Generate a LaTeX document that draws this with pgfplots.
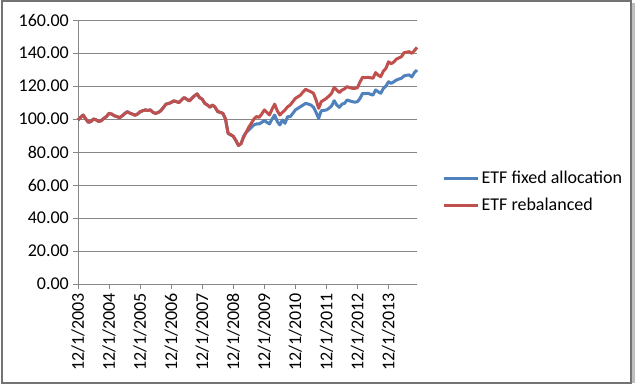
\documentclass[border=0pt]{standalone}
\usepackage{pgfplots}
\pgfplotsset{compat=1.18}
\usepackage{fontspec}
\setmainfont{Carlito}
\definecolor{xlblue}{HTML}{4F81BD}
\definecolor{xlred}{HTML}{C0504D}
\definecolor{xlgrid}{HTML}{868686}
\newcommand{\lbl}{\fontsize{18}{21}\selectfont}
\begin{document}
\begin{tikzpicture}[x=1pt,y=1pt]
\useasboundingbox (0,0) rectangle (640,384);
\fill[white] (0,0) rectangle (640,384);
\draw[black!55,line width=2pt] (1.5,1.5) rectangle (631,382.5);
\draw[black!25,line width=3pt] (633.5,1) -- (633.5,381);
\begin{axis}[
  at={(78pt,100pt)}, anchor=south west,
  width=339pt, height=264pt, scale only axis,
  xmin=0, xmax=131, ymin=0, ymax=160,
  axis x line*=bottom, axis y line*=left,
  axis line style={xlgrid, line width=1pt, -},
  xtick={0,12,24,36,48,60,72,84,96,108,120},
  xticklabels={12/1/2003,12/1/2004,12/1/2005,12/1/2006,12/1/2007,12/1/2008,12/1/2009,12/1/2010,12/1/2011,12/1/2012,12/1/2013},
  xticklabel style={rotate=90, anchor=east, font=\lbl, inner sep=4pt},
  ytick={0,20,...,160},
  yticklabel style={font=\lbl, inner sep=4pt, /pgf/number format/fixed, /pgf/number format/zerofill, /pgf/number format/precision=2},
  /pgf/number format/assume math mode=true,
  tick align=outside, major tick length=5pt,
  tick style={xlgrid, line width=1pt},
  ymajorgrids, grid style={xlgrid, line width=1pt},
  legend style={draw=none, fill=none, at={(1.075,0.35)}, anchor=west, font=\lbl, row sep=9pt, inner sep=0pt},
  legend cell align=left,
  legend image code/.code={\draw[#1] (0pt,0pt) -- (34pt,0pt);},
  every axis plot/.append style={line width=3pt, line join=round},
  clip=false,
]
\addplot[xlblue] coordinates {
(0,99.4)(1,101)(2,102.4)(3,100)(4,98)(5,98.5)(6,100)(7,99.5)(8,98.5)(9,99)
(10,100.4)(11,101.5)(12,103.4)(13,103)(14,102)(15,101.5)(16,100.8)(17,101.8)(18,103.2)(19,104.4)
(20,103.6)(21,103)(22,102.3)(23,103)(24,104.4)(25,105)(26,105.5)(27,105.2)(28,105.5)(29,104)
(30,103.4)(31,104)(32,105)(33,107)(34,109)(35,109.4)(36,110)(37,111)(38,110.5)(39,110)
(40,111.5)(41,113)(42,112)(43,111)(44,112.5)(45,114)(46,115.2)(47,113)(48,112)(49,109.5)
(50,108.5)(51,107.2)(52,108.5)(53,107)(54,104.5)(55,104)(56,103.4)(57,100)(58,91.3)(59,90.5)
(60,89.5)(61,87)(62,84)(63,85)(64,89.5)(65,92)(66,93.3)(67,95)(68,96.4)(69,97)
(70,97)(71,98)(72,99)(73,98)(74,97)(75,100)(76,102.4)(77,98.5)(78,96.4)(79,99.4)
(80,97.4)(81,101.4)(82,101.4)(83,103.4)(84,105.5)(85,106.5)(86,107.5)(87,108.5)(88,109.5)(89,109)
(90,108.5)(91,107.1)(92,104)(93,100.4)(94,105)(95,105.2)(96,105.5)(97,106.5)(98,107.9)(99,111.1)
(100,108.5)(101,107.1)(102,109)(103,109.5)(104,111.5)(105,111)(106,110.5)(107,110.2)(108,110.5)(109,112.5)
(110,115.6)(111,115.3)(112,115.6)(113,115)(114,114.5)(115,117.6)(116,116.5)(117,115.6)(118,118.5)(119,120)
(120,122.6)(121,121.6)(122,122.5)(123,123.6)(124,124.2)(125,124.7)(126,126.1)(127,126.5)(128,126.7)(129,125.5)
(130,128.1)(131,129.7)
};
\addlegendentry{ETF fixed allocation}
\addplot[xlred] coordinates {
(0,99.4)(1,101)(2,102.4)(3,100)(4,98)(5,98.5)(6,100)(7,99.5)(8,98.5)(9,99)
(10,100.4)(11,101.5)(12,103.4)(13,103)(14,102)(15,101.5)(16,100.8)(17,101.8)(18,103.2)(19,104.4)
(20,103.6)(21,103)(22,102.3)(23,103)(24,104.4)(25,105)(26,105.5)(27,105.2)(28,105.5)(29,104)
(30,103.4)(31,104)(32,105)(33,107)(34,109)(35,109.4)(36,110)(37,111)(38,110.5)(39,110)
(40,111.5)(41,113)(42,112)(43,111)(44,112.5)(45,114)(46,115.2)(47,113)(48,112)(49,109.5)
(50,108.5)(51,107.2)(52,108.5)(53,107)(54,104.5)(55,104)(56,103.4)(57,100)(58,91.3)(59,90.5)
(60,89.5)(61,87)(62,84)(63,85)(64,89)(65,92)(66,95)(67,97.5)(68,100)(69,101.5)
(70,101)(71,103)(72,105.5)(73,104)(74,102.5)(75,106)(76,109)(77,105)(78,102.4)(79,104)
(80,105.5)(81,107.4)(82,108.5)(83,110.5)(84,112.5)(85,113.5)(86,114.5)(87,116.5)(88,118)(89,117.2)
(90,116.5)(91,115.6)(92,111.5)(93,106.5)(94,110.5)(95,111.5)(96,112.5)(97,114)(98,115.6)(99,119.2)
(100,117.5)(101,116)(102,117.5)(103,118.3)(104,119.6)(105,119)(106,118.6)(107,118.6)(108,119)(109,122.6)
(110,125.3)(111,125)(112,125.3)(113,125)(114,124.7)(115,128.1)(116,126.5)(117,125.7)(118,129)(119,130.7)
(120,134.7)(121,133.5)(122,134.5)(123,136.2)(124,137)(125,137.8)(126,140.2)(127,140.5)(128,140.8)(129,139.8)
(130,141.4)(131,143.4)
};
\addlegendentry{ETF rebalanced}
\end{axis}
\end{tikzpicture}
\end{document}
